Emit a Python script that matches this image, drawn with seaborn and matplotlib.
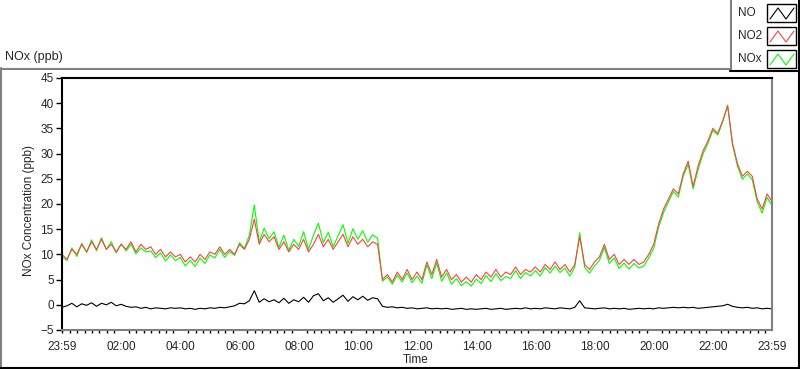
import numpy as np
import pandas as pd
import matplotlib
matplotlib.use('Agg')
import matplotlib.pyplot as plt
import matplotlib.dates as mdates
from matplotlib.lines import Line2D
from matplotlib.patches import Rectangle
import seaborn as sns

# values, every 10 minutes from 23:59 to 23:59
no2 = [10, 9, 11, 10, 12, 10.5, 12.5, 11, 13, 11, 12, 10.5, 12,
       11, 12.5, 10.5, 12, 11, 11.5, 10, 11, 9.5, 10.5, 9.5, 10,
       8.5, 9.5, 8.5, 10, 9, 10.5, 10, 11.5, 10, 11, 10, 12,
       11, 13, 17, 12, 14, 12.5, 13.5, 11, 12.5, 10.5, 12, 11,
       13, 10.5, 12, 14, 11.5, 13, 11, 12.5, 14, 11.5, 13.5, 12,
       13, 11.5, 12.5, 12,
       5, 6, 4.5, 6.5, 5, 7, 5, 6.5, 5, 8.5, 6, 9,
       5.5, 7, 5, 6, 4.5, 5.5, 4.5, 6, 5, 6.5, 5.5, 7,
       5.5, 6.5, 6, 7.5, 6, 7, 6.5, 7.5, 6.5, 8, 7, 8.5,
       7, 8, 6.5, 8, 13.5, 8, 7, 8.5, 9.5, 12, 9, 10,
       8, 9, 8, 9, 8, 8.5, 10, 12, 16, 19, 21, 23,
       22, 26, 28.5, 23.5, 27.5, 30.5, 32.5, 35, 34, 36.5, 39.5, 32,
       28, 25.5, 26.5, 25.5, 21, 19, 22, 20.5]

no = [-0.5, -0.2, 0.3, -0.4, 0.2, -0.1, 0.4, -0.3, 0.3, 0.0, 0.5, -0.2, 0.1,
      -0.3, -0.5, -0.4, -0.7, -0.5, -0.8, -0.6, -0.7, -0.8, -0.6, -0.7, -0.6,
      -0.8, -0.7, -0.9, -0.7, -0.8, -0.6, -0.7, -0.5, -0.6, -0.4, -0.2, 0.3,
      0.2, 0.8, 2.8, 0.5, 1.2, 0.6, 1.0, 0.4, 1.3, 0.3, 1.0, 0.6,
      1.5, 0.5, 1.8, 2.2, 0.8, 1.4, 0.5, 1.2, 1.9, 0.7, 1.6, 1.0,
      1.7, 0.9, 1.4, 1.2,
      -0.3, -0.5, -0.4, -0.6, -0.5, -0.7, -0.6, -0.8, -0.7, -0.6, -0.8, -0.7,
      -0.8, -0.7, -0.9, -0.8, -0.7, -0.9, -0.8, -0.9, -0.8, -0.7, -0.9, -0.8,
      -0.7, -0.9, -0.8, -0.7, -0.8, -0.6, -0.8, -0.7, -0.8, -0.6, -0.7, -0.8,
      -0.6, -0.7, -0.8, -0.5, 0.8, -0.6, -0.7, -0.8, -0.7, -0.6, -0.8, -0.7,
      -0.8, -0.7, -0.9, -0.8, -0.7, -0.8, -0.7, -0.8, -0.6, -0.7, -0.6, -0.5,
      -0.6, -0.5, -0.6, -0.5, -0.7, -0.6, -0.5, -0.4, -0.3, -0.2, 0.1, -0.3,
      -0.5, -0.6, -0.5, -0.7, -0.6, -0.8, -0.7, -0.8]

nox = [9.5, 8.8, 11.3, 9.6, 12.2, 10.4, 12.9, 10.7, 13.3, 11.0, 12.5, 10.3, 12.1,
       10.7, 12.0, 10.1, 11.3, 10.5, 10.7, 9.4, 10.3, 8.7, 9.9, 8.8, 9.4,
       7.7, 8.8, 7.6, 9.3, 8.2, 9.9, 9.3, 11.0, 9.4, 10.6, 9.8, 12.3,
       11.2, 13.8, 19.8, 12.5, 15.2, 13.1, 14.5, 11.4, 13.8, 10.8, 13.0, 11.6,
       14.5, 11.0, 13.8, 16.2, 12.3, 14.4, 11.5, 13.7, 15.9, 12.2, 15.1, 13.0,
       14.7, 12.4, 13.9, 13.2,
       4.7, 5.5, 4.1, 5.9, 4.5, 6.3, 4.4, 5.7, 4.3, 7.9, 5.2, 8.3,
       4.7, 6.3, 4.1, 5.2, 3.8, 4.6, 3.7, 5.1, 4.2, 5.8, 4.6, 6.2,
       4.8, 5.6, 5.2, 6.8, 5.2, 6.4, 5.7, 6.8, 5.7, 7.4, 6.3, 7.7,
       6.4, 7.3, 5.7, 7.5, 14.3, 7.4, 6.3, 7.7, 8.8, 11.4, 8.2, 9.3,
       7.2, 8.3, 7.1, 8.2, 7.3, 7.7, 9.3, 11.2, 15.4, 18.3, 20.4, 22.5,
       21.4, 25.5, 27.9, 23.0, 26.8, 29.9, 32.0, 34.6, 33.7, 36.3, 39.6, 31.7,
       27.5, 24.9, 26.0, 24.8, 20.4, 18.2, 21.3, 19.7]

tick_labels = ['23:59', '02:00', '04:00', '06:00', '08:00', '10:00', '12:00',
               '14:00', '16:00', '18:00', '20:00', '22:00', '23:59']
series_names = ['NO', 'NO2', 'NOx']
series_colors = ['black', '#FF4040', '#00FF00']

start = pd.Timestamp('2020-01-01 23:59')
times = pd.date_range(start, periods=len(no2), freq='10min')
df = pd.DataFrame({'time': times, 'NO': no, 'NO2': no2, 'NOx': nox})

W, H = 800, 369
def px(x, y):
    return x / W, 1 - y / H

sns.set_style('white')
plt.rcParams['font.family'] = ['Liberation Sans', 'DejaVu Sans']
plt.rcParams['font.size'] = 8.5

fig = plt.figure(figsize=(8, 3.69), dpi=100)
ax = fig.add_axes([62 / W, 1 - 330 / H, (772 - 62) / W, (330 - 78) / H])

# draw green first so red sits on top like the original
sns.lineplot(data=df, x='time', y='NOx', color=series_colors[2], lw=0.8, ax=ax)
sns.lineplot(data=df, x='time', y='NO2', color=series_colors[1], lw=0.8, ax=ax)
sns.lineplot(data=df, x='time', y='NO', color=series_colors[0], lw=0.8, ax=ax)

ax.set_xlim(times[0], times[-1])
ax.set_ylim(-5, 45)
ax.set_yticks(range(-5, 50, 5))

tick_times = [times[0]] + [pd.Timestamp('2020-01-02') + pd.Timedelta(hours=h) for h in range(2, 23, 2)] + [times[-1]]
ax.set_xticks(mdates.date2num(tick_times))
ax.set_xticklabels(tick_labels)
ax.xaxis.set_minor_locator(mdates.MinuteLocator(byminute=[0, 15, 30, 45]))
ax.tick_params(axis='both', which='major', direction='out', length=4, width=1,
               color='black', labelsize=8.5, pad=2)
ax.tick_params(axis='x', which='major', pad=4)
ax.tick_params(axis='x', which='minor', direction='out', length=2.5, width=1,
               color='black', bottom=True)
ax.tick_params(axis='y', left=True)
ax.set_xlabel('')
ax.set_ylabel('')

for side, col in [('left', 'black'), ('top', 'black'), ('right', '#808080'), ('bottom', '#808080')]:
    ax.spines[side].set_visible(True)
    ax.spines[side].set_color(col)
    ax.spines[side].set_linewidth(1.5)

fig.text(*px(5, 57), 'NOx (ppb)', va='center', ha='left', fontsize=9)
fig.text(*px(29, 211), 'NOx Concentration (ppb)', va='center', ha='center', rotation=90, fontsize=8.5)
fig.text(*px(416, 360), 'Time', va='center', ha='center', fontsize=8.5)

# panel frame
def fline(x0, y0, x1, y1, col):
    fig.add_artist(Line2D([x0 / W, x1 / W], [1 - y0 / H, 1 - y1 / H], color=col, lw=1.5,
                          transform=fig.transFigure))

fline(0, 68.5, 730, 68.5, '#808080')
fline(0.8, 68, 0.8, 369, '#808080')
fline(0, 367.5, 800, 367.5, 'black')
fline(798.5, 0, 798.5, 369, 'black')
fline(730.5, 0, 730.5, 71, '#808080')
fline(730, 71, 800, 71, 'black')

# legend box
for i, (name, col) in enumerate(zip(series_names, series_colors)):
    yc = 13 + 23 * i
    fig.text(*px(738, yc), name, va='center', ha='left', fontsize=8.5)
    x0, y0 = px(767, yc + 9)
    x1, y1 = px(796, yc - 9)
    fig.add_artist(Rectangle((x0, y0), x1 - x0, y1 - y0, transform=fig.transFigure,
                             facecolor='white', edgecolor='black', lw=1))
    zx = [770, 778, 786, 794]
    zy = [yc + 6, yc - 5, yc + 6, yc - 5]
    fig.add_artist(Line2D([v / W for v in zx], [1 - v / H for v in zy], color=col, lw=0.8,
                          transform=fig.transFigure))

fig.savefig('out.png', dpi=100)
